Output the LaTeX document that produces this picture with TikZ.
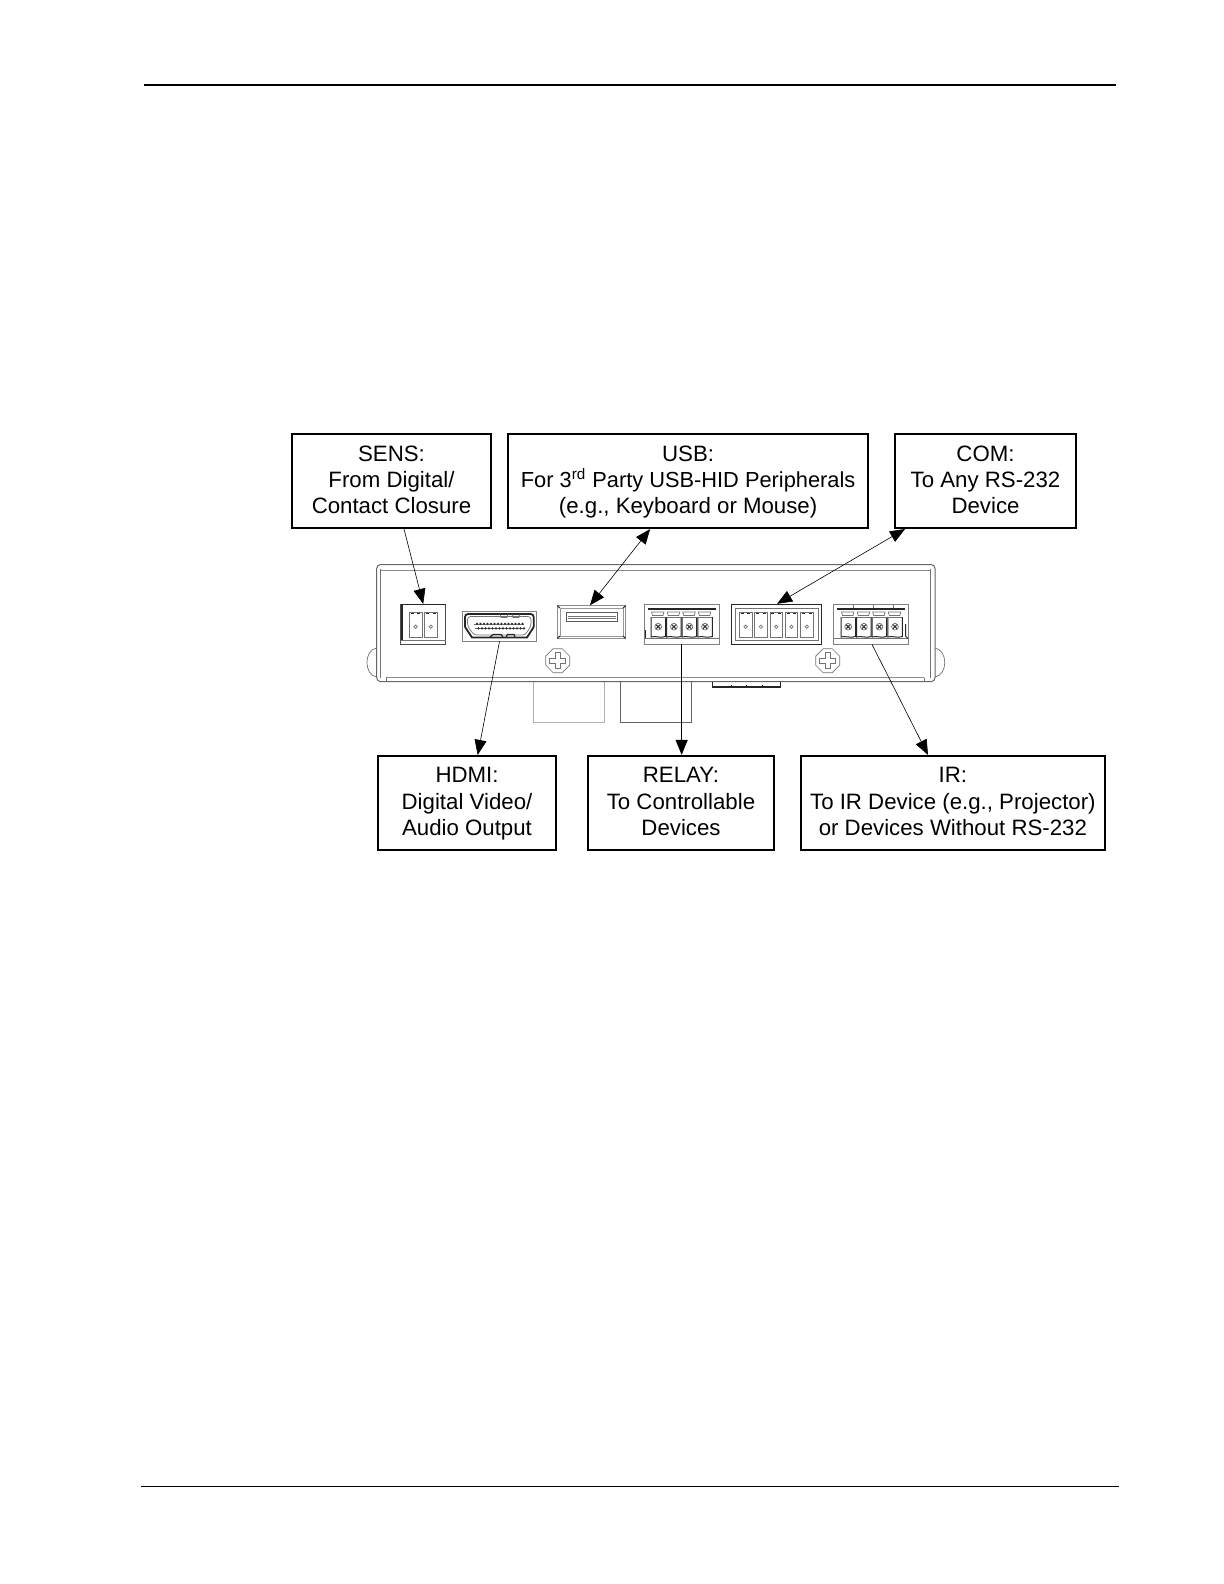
\documentclass[tikz,border=0pt]{standalone}
\usepackage{fontspec}
\setmainfont{Liberation Sans}
\usetikzlibrary{arrows.meta,calc}
\newcommand{\firstline}{\rule{0pt}{9pt}}
\newcommand{\lastline}{\rule[-2.6pt]{0pt}{2.6pt}}
\tikzset{
  labelbox/.style={draw=black,line width=1pt,fill=white,inner sep=0pt,align=center,font=\fontsize{11.12}{13.15}\selectfont},
  topbox/.style={labelbox,line width=1.05pt,minimum height=47pt},
  botbox/.style={labelbox,line width=.9pt,minimum height=47pt},
  part/.style={draw=black!50,line width=.4pt,inner sep=0pt,fill=white},
  fineline/.style={draw=black!55,line width=.35pt},
  midline/.style={draw=black!45,line width=.5pt},
  darkline/.style={draw=black!85,line width=.7pt},
  lead/.style={draw=black,line width=.3pt},
  endarrow/.style={-{Triangle[length=7.5pt,width=6pt]}},
  botharrow/.style={{Triangle[length=7.5pt,width=6pt]}-{Triangle[length=7.5pt,width=6pt]}}
}
\newcommand{\termblock}[1]{%
  \draw[fineline] (#1+.5,612)--(#1+13,612)--(#1+12,615.5)--(#1+1.5,615.5)--cycle;
  \draw[darkline,line width=.5pt] (#1,617)--(#1,637) .. controls (#1+4,635.5) and (#1+10,638.5) .. (#1+14.5,636.5)--(#1+14.5,617);
  \draw[fineline] (#1,617)--(#1+14.5,617);
  \draw[fineline] (#1+7.2,626.7) circle (3.4);
  \draw[black!80,line width=.55pt] (#1+5.2,624.7)--(#1+9.2,628.7) (#1+5.2,628.7)--(#1+9.2,624.7);
}
\newcommand{\pinblock}[1]{%
  \draw[fineline] (#1,612) rectangle (#1+12.6,637);
  \draw[darkline,line width=.4pt] (#1+1.5,613.5)--(#1+4.5,613.5) (#1+8,613.5)--(#1+11,613.5);
  \draw[fineline] (#1+6.3,626.7) circle (1.7);
}
\newcommand{\screwhead}[2]{%
  \draw[fineline] (#1-12,#2-4.5)--(#1-4.5,#2-12)--(#1+4.5,#2-12)--(#1+12,#2-4.5)--(#1+12,#2+4.5)--(#1+4.5,#2+12)--(#1-4.5,#2+12)--(#1-12,#2+4.5)--cycle;
  \draw[fineline] (#1-2.2,#2-8)--(#1+2.2,#2-8)--(#1+2.2,#2-2.2)--(#1+8,#2-2.2)--(#1+8,#2+2.2)--(#1+2.2,#2+2.2)--(#1+2.2,#2+8)--(#1-2.2,#2+8)--(#1-2.2,#2+2.2)--(#1-8,#2+2.2)--(#1-8,#2-2.2)--(#1-2.2,#2-2.2)--cycle;
}
\begin{document}
\begin{tikzpicture}[x=.5pt,y=-.5pt]
\useasboundingbox (0,0) rectangle (1224,1584);
\fill[white] (0,0) rectangle (1224,1584);
% page rules
\draw[black,line width=1pt] (143.5,85)--(1116,85);
\draw[black,line width=.4pt] (141,1486)--(1119,1486);
% parts under the housing
\draw[midline,draw=black!30] (533.3,682)--(533.3,722)--(604.3,722)--(604.3,682);
\draw[midline,draw=black!60] (620,682)--(620,722)--(691,722)--(691,682);
\draw[darkline] (712.7,682)--(712.7,687)--(780.3,687)--(780.3,682);
\foreach \t in {731,746,762} \draw[darkline,line width=.5pt] (\t,684.5)--(\t,687);
% side bumps
\draw[fineline] (376.7,648) .. controls (363.7,650) and (363.7,675) .. (376.7,677);
\draw[fineline] (935,648) .. controls (948,650) and (948,675) .. (935,677);
% housing
\draw[midline,draw=black!60,fill=white,rounded corners=2pt] (376.7,681.7) -- (376.7,564.5) -- (935,564.5) -- (935,681.7) -- cycle;
\draw[fineline] (380.7,569) -- (380.7,677.7);
\draw[fineline] (930,569) -- (930,677.7);
\draw[midline] (381,570.7) -- (930,570.7);
\draw[midline] (386,677.7) -- (924,677.7);
\draw[fineline] (924,678)--(924,681) (386.7,678)--(386.7,681);
\screwhead{557.7}{660.7}
\screwhead{827.7}{660.7}
% SENS connector
\node[part,draw=black!70,minimum width=22.5pt,minimum height=19.85pt] (sensc) at (423.2,624.15) {};
\draw[fineline] (400.7,640)--(445.7,640);
\draw[darkline] (400.7,604.3)--(445.7,604.3) (402,640)--(402,604.3);
\foreach \s in {409.3,424.5} \pinblock{\s}
% HDMI connector
\node[part,minimum width=37.2pt,minimum height=14.65pt] (hdmic) at (499.5,626.35) {};
\draw[darkline,line width=.9pt,rounded corners=1.5pt] (465,627)--(465,614)--(533.7,614)--(533.7,627);
\draw[darkline,line width=.9pt] (465,627)--(472,637.5)--(527,637.5)--(533.7,627);
\draw[fineline,rounded corners=1.5pt] (467.5,626)--(467.5,616.5)--(531,616.5)--(531,626)--(525,635)--(474,635)--cycle;
\draw[fineline] (500,614)--(501,617.5)--(507,617.5)--(508,614) (512,614)--(513,617.5)--(519,617.5)--(520,614);
\draw[darkline,line width=.6pt] (490,637)--(493,634.5)--(501,634.5)--(503,637) (506,637)--(507.5,634.5)--(514,634.5)--(515,637);
\draw[fineline] (474,624)--(524,624) (475,628.4)--(525,628.4);
\foreach \k in {0,...,13} {
  \fill[black!85] (477+\k*3.5,623.8) circle (1.2);
  \fill[black!85] (478.5+\k*3.5,628.4) circle (1.2);
}
% USB connector
\node[part,draw=black!45,minimum width=34.2pt,minimum height=16.3pt] (usbc) at (591.5,622) {};
\draw[fineline,draw=black!40] (560,608) rectangle (623,636);
\draw[darkline,line width=.5pt] (557.3,605.7)--(560,608) (625.7,605.7)--(623,608) (557.3,638.3)--(560,636) (625.7,638.3)--(623,636);
\draw[midline,draw=black!65,line width=.45pt] (566,621.3)--(566,612.7)--(617.3,612.7)--(617.3,621.3)--cycle;
\draw[fineline] (568,616)--(615.5,616) (568,618.5)--(615.5,618.5);
% RELAY connector
\node[part,minimum width=37.35pt,minimum height=19.85pt] (relc) at (681.65,624.15) {};
\draw[darkline,line width=1pt] (648,609)--(716,609);
\draw[fineline] (644.3,638.5)--(719,638.5);
\draw[darkline,line width=.5pt] (645.5,630)--(645.5,638);
\foreach \s in {651,666.7,682.2,697.8} \termblock{\s}
% COM connector
\node[part,draw=black!85,line width=.5pt,minimum width=45.35pt,minimum height=19.85pt] (comc) at (776.35,624.15) {};
\draw[fineline] (735,608)--(818,608)--(818,640)--(735,640)--cycle;
\foreach \s in {739.3,754.6,769.9,785.2,800.5} \pinblock{\s}
% IR connector
\node[part,minimum width=37.3pt,minimum height=19.85pt] (irc) at (871,624.15) {};
\draw[darkline,line width=1pt] (837,609)--(905,609);
\draw[fineline] (833.7,638.5)--(908.3,638.5);
\draw[fineline] (853,604.3)--(853,608) (873,604.3)--(873,608) (893,604.3)--(893,608);
\draw[darkline,line width=.5pt] (905.5,624)--(905.5,636)--(908,638.5);
\foreach \s in {841,856.7,872.2,887.8} \termblock{\s}
% label boxes
\node[topbox,minimum width=99.5pt] (sens) at (391.5,481) {\firstline SENS:\\From Digital/\\\lastline Contact Closure};
\node[topbox,minimum width=180pt] (usb) at (688.1,481) {\firstline USB:\\{\fontsize{10.9}{13.15}\selectfont For 3\smash{\textsuperscript{rd}} Party USB-HID Peripherals}\\\lastline (e.g., Keyboard or Mouse)};
\node[topbox,minimum width=90.5pt] (com) at (985.5,481) {\firstline COM:\\To Any RS-232\\\lastline Device};
\node[botbox,minimum width=88.8pt] (hdmi) at (467,802.8) {\firstline HDMI:\\Digital Video/\\\lastline Audio Output};
\node[botbox,minimum width=93.3pt] (rel) at (681,802.8) {\firstline RELAY:\\To Controllable\\\lastline Devices};
\node[botbox,minimum width=152.2pt] (ir) at (952.9,802.8) {\firstline IR:\\To IR Device (e.g., Projector)\\\lastline or Devices Without RS-232};
% connectors
\draw[lead,endarrow] ([xshift=6.25pt]sens.south) -- (sensc.north);
\draw[lead,endarrow] (hdmic.south) -- ([xshift=5.35pt]hdmi.north);
\draw[lead,botharrow] ([xshift=-19pt]usb.south) -- ([xshift=-.75pt]usbc.north);
\draw[lead,botharrow] ([xshift=-40.25pt]com.south) -- ([xshift=.35pt]comc.north);
\draw[lead,line width=.55pt,endarrow] (relc.south) -- (relc.south |- rel.north);
\draw[lead,endarrow] ([xshift=.5pt]irc.south) -- ([xshift=-12.45pt]ir.north);
\end{tikzpicture}
\end{document}
